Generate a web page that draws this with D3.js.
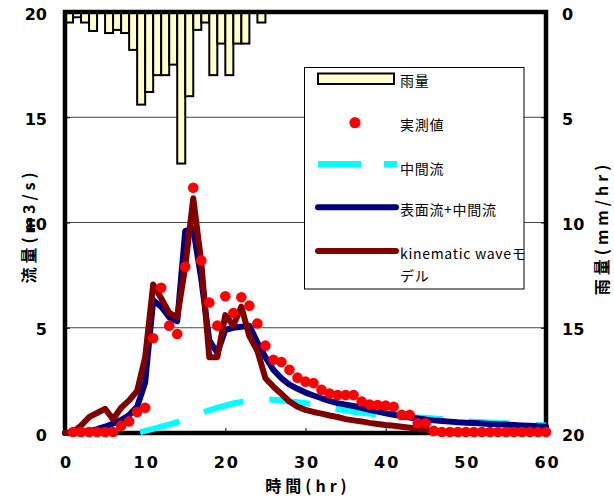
<!DOCTYPE html>
<html><head><meta charset="utf-8">
<script src="https://cdn.jsdelivr.net/npm/d3@7"></script>
<style>body{margin:0;background:#fff}svg{display:block}</style>
</head><body>
<svg id="c" width="614" height="499"></svg>
<script>
// ---- data ----
const xTicks = [0, 10, 20, 30, 40, 50, 60];
const yTicks = [0, 5, 10, 15, 20];
const rainTicks = [0, 5, 10, 15, 20];

const rainHours = d3.range(0, 25);
const rain = [0.5, 0.25, 0.5, 0.9, 0, 1.0, 0.85, 1.0, 1.8, 4.4,
              3.8, 3.0, 3.0, 2.5, 7.2, 4.0, 0.85, 0.5, 3.0, 1.5,
              3.0, 1.5, 1.5, 0, 0.5];

const obsHours = d3.range(1, 61);
const observed = [0.05, 0.05, 0.05, 0.05, 0.05, 0.05, 0.35, 0.55, 1.0, 1.2,
                  4.5, 6.9, 5.1, 4.7, 7.9, 11.65, 8.2, 6.2, 5.1, 6.5,
                  5.7, 6.45, 6.05, 5.2, 4.15, 3.48, 3.37, 3.0, 2.63, 2.44,
                  2.37, 2.05, 1.88, 1.8, 1.8, 1.8, 1.5, 1.35, 1.33, 1.3,
                  1.25, 0.86, 0.86, 0.46, 0.46, 0.1, 0.05, 0.05, 0.05, 0.05,
                  0.05, 0.05, 0.05, 0.05, 0.05, 0.05, 0.05, 0.05, 0.05, 0.05];

const interHours = d3.range(9, 61);
const interflow = [0, 0.1, 0.2, 0.3, 0.4, 0.52, 0.66, 0.8, 0.95, 1.08,
                   1.2, 1.3, 1.4, 1.48, 1.55, 1.59, 1.6, 1.58, 1.54, 1.5,
                   1.46, 1.42, 1.37, 1.3, 1.22, 1.14, 1.07, 1.01, 0.96, 0.92,
                   0.88, 0.85, 0.82, 0.79, 0.76, 0.74, 0.72, 0.69, 0.66, 0.63,
                   0.6, 0.57, 0.54, 0.52, 0.5, 0.48, 0.46, 0.44, 0.42, 0.4,
                   0.38, 0.36];

const modelHours = d3.range(0, 61);
const surfaceInter = [0, 0, 0.02, 0.08, 0.18, 0.3, 0.45, 0.62, 0.85, 1.25,
                      2.4, 6.3, 6.0, 5.5, 5.3, 9.6, 9.7, 7.3, 4.4, 3.8,
                      4.9, 5.0, 5.05, 5.1, 4.3, 3.6, 3.0, 2.6, 2.3, 2.1,
                      1.92, 1.78, 1.65, 1.53, 1.42, 1.35, 1.28, 1.2, 1.1, 1.02,
                      0.94, 0.87, 0.8, 0.74, 0.69, 0.64, 0.6, 0.57, 0.54, 0.51,
                      0.49, 0.47, 0.45, 0.43, 0.41, 0.4, 0.38, 0.36, 0.34, 0.32,
                      0.3];
const kinematic = [0, 0.05, 0.35, 0.75, 0.95, 1.15, 0.65, 1.2, 1.55, 2.0,
                   3.6, 7.05, 6.4, 5.7, 5.5, 7.9, 11.15, 8.1, 3.6, 3.6,
                   5.6, 5.1, 6.0, 4.6, 3.9, 2.6, 2.2, 1.85, 1.5, 1.25,
                   1.1, 1.0, 0.92, 0.83, 0.76, 0.66, 0.6, 0.55, 0.48, 0.43,
                   0.38, 0.34, 0.3, 0.25, 0.2, 0.15, 0.1, 0.05, 0.02, 0.02,
                   0.02, 0.02, 0.02, 0.02, 0.02, 0.02, 0.02, 0.02, 0.02, 0.02,
                   0.02];

const legendLabels = ["雨量", "実測値", "中間流", "表面流+中間流", "kinematic waveモ", "デル"];

// ---- chart ----
const svg = d3.select("#c");
svg.append("rect").attr("width", 614).attr("height", 499).attr("fill", "#fff");

const L = 65, R = 546, T = 12, B = 433;
const x = d3.scaleLinear().domain([0, 60]).range([L, R]);
const y = d3.scaleLinear().domain([0, 20]).range([B, T]);
const yR = d3.scaleLinear().domain([0, 20]).range([T, B]);

const numFont = "'DejaVu Sans', 'Liberation Sans', sans-serif";
const jpFont = "'Noto Sans CJK JP', 'Noto Sans', sans-serif";

// gridlines
svg.append("g").selectAll("line").data([5, 10, 15]).join("line")
  .attr("x1", L).attr("x2", R).attr("y1", d => y(d)).attr("y2", d => y(d))
  .attr("stroke", "#444").attr("stroke-width", 1.2);

// rain bars
svg.append("g").selectAll("rect").data(rainHours.map((h, i) => ({h, v: rain[i]})).filter(d => d.v > 0)).join("rect")
  .attr("x", d => x(d.h)).attr("width", d => x(d.h + 1) - x(d.h))
  .attr("y", yR(0)).attr("height", d => yR(d.v) - yR(0))
  .attr("fill", "#FFFFCC").attr("stroke", "#000").attr("stroke-width", 2);

// legend box
const lg = svg.append("g");
lg.append("rect").attr("x", 304.5).attr("y", 67.5).attr("width", 219.5).attr("height", 221.5)
  .attr("fill", "#fff").attr("stroke", "#000").attr("stroke-width", 1);

// axes
const gx = svg.append("g").attr("transform", `translate(0,${B})`)
  .call(d3.axisBottom(x).tickValues(xTicks).tickSizeInner(-5).tickSizeOuter(0).tickPadding(24));
gx.select(".domain").remove();
gx.selectAll("text").attr("font-family", numFont).attr("font-weight", "bold").attr("font-size", 16)
  .attr("letter-spacing", 2).attr("fill", "#000").attr("dx", 1);
gx.selectAll("line").attr("stroke", "#000");

const gy = svg.append("g").attr("transform", `translate(${L},0)`)
  .call(d3.axisLeft(y).tickValues(yTicks).tickSizeInner(-5).tickSizeOuter(0).tickPadding(18));
gy.select(".domain").remove();
gy.selectAll("text").attr("font-family", numFont).attr("font-weight", "bold").attr("font-size", 16)
  .attr("dy", "0.45em").attr("fill", "#000");
gy.selectAll("line").attr("stroke", "#000");

const gr = svg.append("g").attr("transform", `translate(${R},0)`)
  .call(d3.axisRight(yR).tickValues(rainTicks).tickSizeInner(-5).tickSizeOuter(0).tickPadding(16));
gr.select(".domain").remove();
gr.selectAll("text").attr("font-family", numFont).attr("font-weight", "bold").attr("font-size", 16)
  .attr("dy", "0.45em").attr("fill", "#000");
gr.selectAll("line").attr("stroke", "#000");

// frame
svg.append("rect").attr("x", L).attr("y", T).attr("width", R - L).attr("height", B - T)
  .attr("fill", "none").attr("stroke", "#000").attr("stroke-width", 4.5);

// series lines
const line = (hs, vs) => d3.line().x((d, i) => x(hs[i])).y(d => y(d))(vs);
svg.append("path").attr("d", line(interHours, interflow))
  .attr("fill", "none").attr("stroke", "#00FFFF").attr("stroke-width", 6)
  .attr("stroke-dasharray", "41,26").attr("stroke-dashoffset", -3);
svg.append("path").attr("d", line(modelHours, surfaceInter))
  .attr("fill", "none").attr("stroke", "#000080").attr("stroke-width", 6)
  .attr("stroke-linejoin", "round").attr("stroke-linecap", "round");
svg.append("path").attr("d", line(modelHours, kinematic))
  .attr("fill", "none").attr("stroke", "#800000").attr("stroke-width", 6)
  .attr("stroke-linejoin", "round").attr("stroke-linecap", "round");

// observed points
svg.append("g").selectAll("circle").data(observed).join("circle")
  .attr("cx", (d, i) => x(obsHours[i])).attr("cy", d => y(d)).attr("r", 5.3)
  .attr("fill", "#FF0000");

// legend items
lg.append("rect").attr("x", 318).attr("y", 73.5).attr("width", 76).attr("height", 10.5)
  .attr("fill", "#FFFFCC").attr("stroke", "#000").attr("stroke-width", 2);
lg.append("circle").attr("cx", 355).attr("cy", 122.7).attr("r", 5.6).attr("fill", "#FF0000");
lg.append("line").attr("x1", 318).attr("x2", 397).attr("y1", 164.3).attr("y2", 164.3)
  .attr("stroke", "#00FFFF").attr("stroke-width", 6.5).attr("stroke-dasharray", "43,23");
lg.append("line").attr("x1", 318).attr("x2", 396).attr("y1", 207.3).attr("y2", 207.3)
  .attr("stroke", "#000080").attr("stroke-width", 6).attr("stroke-linecap", "round");
lg.append("line").attr("x1", 318).attr("x2", 396).attr("y1", 251).attr("y2", 251)
  .attr("stroke", "#800000").attr("stroke-width", 6).attr("stroke-linecap", "round");

const legendY = [80.7, 125, 169, 210, 254, 276];
lg.selectAll("text.lt").data(legendLabels).join("text").attr("class", "lt")
  .attr("x", 400).attr("y", (d, i) => legendY[i]).attr("dy", "0.36em")
  .attr("font-family", jpFont).attr("font-size", 14).attr("letter-spacing", 0.7)
  .attr("fill", "#000").text(d => d);

// axis titles
svg.append("text").attr("transform", "translate(602,228) rotate(-90)")
  .attr("text-anchor", "middle").attr("dy", "0.36em")
  .attr("font-family", jpFont).attr("font-weight", "bold").attr("font-size", 16).attr("letter-spacing", 4)
  .attr("fill", "#000").text("雨量(mm/hr)");
svg.append("text").attr("transform", "translate(29,226) rotate(-90)")
  .attr("text-anchor", "middle").attr("dy", "0.36em")
  .attr("font-family", jpFont).attr("font-weight", "bold").attr("font-size", 16).attr("letter-spacing", 4)
  .attr("fill", "#000").text("流量(m3/s)");
svg.append("text").attr("x", 308).attr("y", 486).attr("dy", "0.36em")
  .attr("text-anchor", "middle")
  .attr("font-family", jpFont).attr("font-weight", "bold").attr("font-size", 16).attr("letter-spacing", 4)
  .attr("fill", "#000").text("時間(hr)");
</script>
</body></html>
